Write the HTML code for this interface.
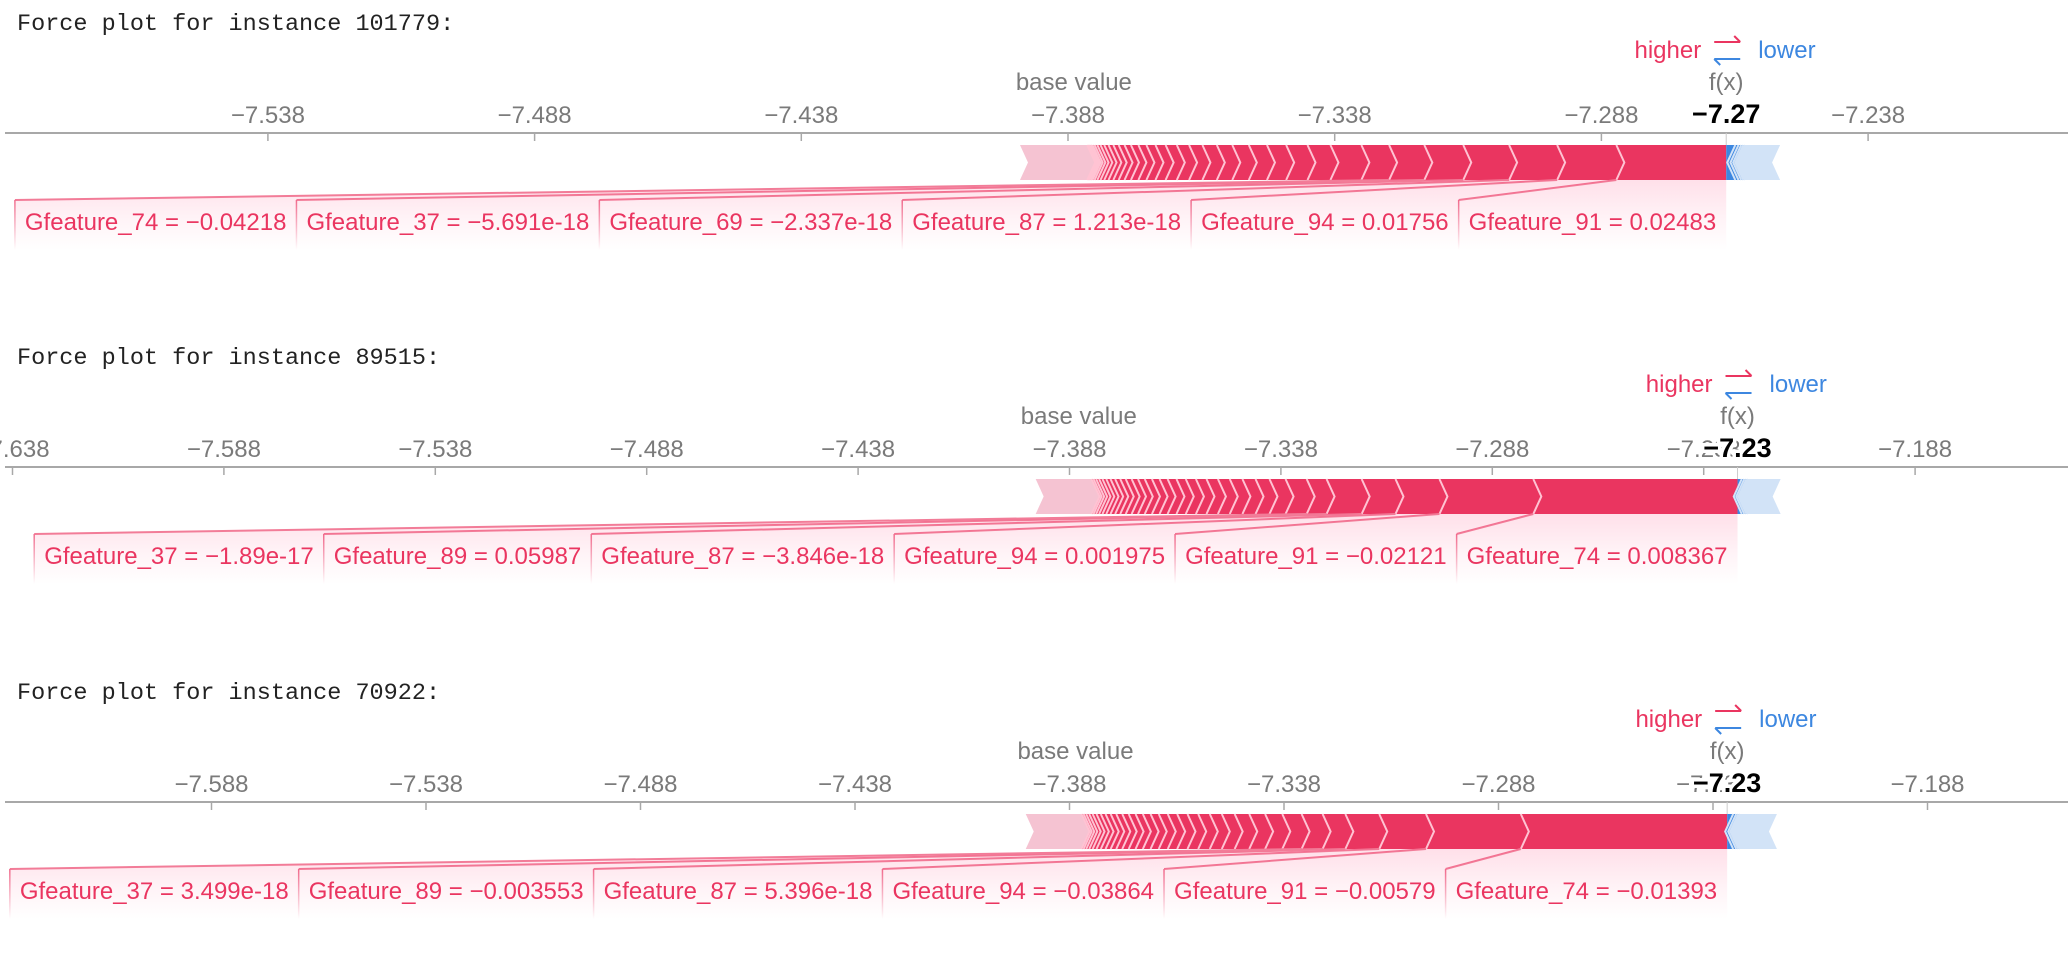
<!DOCTYPE html>
<html><head><meta charset="utf-8">
<style>
html,body{margin:0;padding:0;background:#fff;width:2068px;height:958px;overflow:hidden}
svg{display:block}
.tick{font-family:"Liberation Sans",Arial,sans-serif;font-size:24px;fill:#7a7a7a}
.lab{font-family:"Liberation Sans",Arial,sans-serif;font-size:24px;fill:#ea3560}
.title{font-family:"Liberation Mono",monospace;font-size:23.5px;fill:#222}
</style></head>
<body>
<svg id="root" width="2068" height="958" viewBox="0 0 2068 958" xmlns="http://www.w3.org/2000/svg">
<defs>
<linearGradient id="labGrad" x1="0" y1="0" x2="0" y2="1">
<stop offset="0" stop-color="#ff0d57" stop-opacity="0.13"/>
<stop offset="0.55" stop-color="#ff0d57" stop-opacity="0.05"/>
<stop offset="1" stop-color="#ff0d57" stop-opacity="0"/>
</linearGradient>
<linearGradient id="edgeGrad" x1="0" y1="0" x2="0" y2="1">
<stop offset="0" stop-color="#f07090" stop-opacity="1"/>
<stop offset="1" stop-color="#f07090" stop-opacity="0"/>
</linearGradient>
</defs>
</svg>
<script>
// ---------- chart data ----------
const c1Title = "Force plot for instance 101779:";
const c1Ticks = [-7.538, -7.488, -7.438, -7.388, -7.338, -7.288, -7.238];
const c1Fx = -7.2646;
const c1FxLabel = "\u22127.27";
const c1PosValues = [0.0206, 0.0111, 0.0090, 0.0086, 0.0073, 0.0066, 0.0052, 0.0058, 0.0043,
  0.0040, 0.0036, 0.0034, 0.0031, 0.0029, 0.0027, 0.0025, 0.0023, 0.0021, 0.0019, 0.0017, 0.0015,
  0.0014, 0.0012, 0.0011, 0.0010, 0.0009, 0.0008, 0.0007, 0.0006, 0.0005, 0.0004, 0.0003, 0.0003,
  0.0002, 0.0002, 0.0126];
const c1PosNames = ["Gfeature_91 = 0.02483", "Gfeature_94 = 0.01756", "Gfeature_87 = 1.213e-18",
  "Gfeature_69 = \u22122.337e-18", "Gfeature_37 = \u22125.691e-18", "Gfeature_74 = \u22120.04218"];
const c1NegValues = [0.0017, 0.0006, 0.0005, 0.0004, 0.0003, 0.0066];

const c2Title = "Force plot for instance 89515:";
const c2Ticks = [-7.638, -7.588, -7.538, -7.488, -7.438, -7.388, -7.338, -7.288, -7.238, -7.188];
const c2Fx = -7.2300;
const c2FxLabel = "\u22127.23";
const c2PosValues = [0.0483, 0.0222, 0.0104, 0.0080, 0.0083, 0.0047, 0.0050, 0.0038, 0.0033, 0.0031,
  0.0030, 0.0028, 0.0027, 0.0025, 0.0024, 0.0022, 0.0021, 0.0019, 0.0018, 0.0017, 0.0016, 0.0015,
  0.0014, 0.0013, 0.0012, 0.0011, 0.0010, 0.0009, 0.0008, 0.0007, 0.0006, 0.0005, 0.0132];
const c2PosNames = ["Gfeature_74 = 0.008367", "Gfeature_91 = \u22120.02121", "Gfeature_94 = 0.001975",
  "Gfeature_87 = \u22123.846e-18", "Gfeature_89 = 0.05987", "Gfeature_37 = \u22121.89e-17"];
const c2NegValues = [0.0010, 0.0006, 0.0005, 0.0004, 0.0077];

const c3Title = "Force plot for instance 70922:";
const c3Ticks = [-7.588, -7.538, -7.488, -7.438, -7.388, -7.338, -7.288, -7.238, -7.188];
const c3Fx = -7.2347;
const c3FxLabel = "\u22127.23";
const c3PosValues = [0.0481, 0.0221, 0.0109, 0.0079, 0.0053, 0.0049, 0.0045, 0.0040, 0.0037, 0.0034,
  0.0030, 0.0028, 0.0027, 0.0025, 0.0024, 0.0022, 0.0021, 0.0019, 0.0018, 0.0017, 0.0016, 0.0015,
  0.0014, 0.0013, 0.0012, 0.0011, 0.0010, 0.0009, 0.0008, 0.0007, 0.0006, 0.0005, 0.0130];
const c3PosNames = ["Gfeature_74 = \u22120.01393", "Gfeature_91 = \u22120.00579", "Gfeature_94 = \u22120.03864",
  "Gfeature_87 = 5.396e-18", "Gfeature_89 = \u22120.003553", "Gfeature_37 = 3.499e-18"];
const c3NegValues = [0.0014, 0.0007, 0.0005, 0.0004, 0.0086];

// ---------- layout (not data) ----------
const layouts = [
  {axisY: 133, anchorVal: -7.388, anchorX: 1068, scale: 5334},
  {axisY: 467, anchorVal: -7.388, anchorX: 1069.5, scale: 4228},
  {axisY: 802, anchorVal: -7.388, anchorX: 1069.5, scale: 4290}
];
const charts = [
  {title: c1Title, ticks: c1Ticks, fx: c1Fx, fxLabel: c1FxLabel, pos: c1PosValues, names: c1PosNames, neg: c1NegValues},
  {title: c2Title, ticks: c2Ticks, fx: c2Fx, fxLabel: c2FxLabel, pos: c2PosValues, names: c2PosNames, neg: c2NegValues},
  {title: c3Title, ticks: c3Ticks, fx: c3Fx, fxLabel: c3FxLabel, pos: c3PosValues, names: c3PosNames, neg: c3NegValues}
];

const NS = "http://www.w3.org/2000/svg";
const root = document.getElementById("root");
function mk(tag, attrs, parent) {
  const el = document.createElementNS(NS, tag);
  for (const k in attrs) el.setAttribute(k, attrs[k]);
  (parent || root).appendChild(el);
  return el;
}
const RED = "#ea3560", PINK = "#f5c3d2", BLUE = "#3d87e0", LBLUE = "#d2e3f7";
const D = 8;

charts.forEach((c, ci) => {
  const L = layouts[ci];
  const ay = L.axisY;
  const xs = v => L.anchorX + (v - L.anchorVal) * L.scale;
  const g = mk("g", {});
  
  

  const title = mk("text", {x: 17, y: ay - 103, class: "title"}, g);
  title.textContent = c.title;
  
  

  const axis = mk("line", {x1: 5, x2: 2068, y1: ay, y2: ay, stroke: "#a8a8a8", "stroke-width": 2}, g);
  
  
  c.ticks.forEach(t => {
    const x = xs(t);
    const tm = mk("line", {x1: x, x2: x, y1: ay, y2: ay + 8, stroke: "#a8a8a8", "stroke-width": 1.5}, g);
    
    
    const tl = mk("text", {x: x, y: ay - 10, class: "tick", "text-anchor": "middle"}, g);
    tl.textContent = "\u2212" + Math.abs(t).toFixed(3);
    
    
  });

  const fxX = xs(c.fx);
  const posSum = c.pos.reduce((a, b) => a + b, 0);
  const negSum = c.neg.reduce((a, b) => a + b, 0);
  const base = c.fx - posSum + negSum;
  const top = ay + 12, bot = ay + 47, mid = (top + bot) / 2;

  const fl = mk("line", {x1: fxX, x2: fxX, y1: ay, y2: top, stroke: "#cccccc", "stroke-width": 1}, g);
  
  

  let cum = 0;
  const segs = [];
  c.pos.forEach((v, i) => {
    const r = xs(c.fx - cum);
    cum += v;
    const l = xs(c.fx - cum);
    segs.push({l, r});
    const last = i === c.pos.length - 1;
    const rt = i === 0 ? `${r},${top} ${r},${bot}` : `${r},${top} ${r + D},${mid} ${r},${bot}`;
    const p = mk("polygon", {points: `${l},${top} ${rt} ${l},${bot} ${l + D},${mid}`, fill: last ? PINK : RED}, g);
    
    
  });
  segs.forEach((s, i) => {
    if (i === segs.length - 1) return;
    const sp = mk("polyline", {points: `${s.l},${top} ${s.l + D},${mid} ${s.l},${bot}`, fill: "none", stroke: "#ffc3d3", "stroke-width": 2}, g);
    
    
  });

  let ncum = 0;
  const nsegs = [];
  c.neg.forEach((v, i) => {
    const l = xs(c.fx + ncum);
    ncum += v;
    const r = xs(c.fx + ncum);
    nsegs.push({l, r});
    const last = i === c.neg.length - 1;
    const lt = i === 0 ? `${l},${bot} ${l},${top}` : `${l},${bot} ${l - D},${mid} ${l},${top}`;
    const p = mk("polygon", {points: `${lt} ${r},${top} ${r - D},${mid} ${r},${bot}`, fill: last ? LBLUE : BLUE}, g);
    
    
  });
  nsegs.forEach((s, i) => {
    if (i === nsegs.length - 1) return;
    const sp = mk("polyline", {points: `${s.r},${top} ${s.r - D},${mid} ${s.r},${bot}`, fill: "none", stroke: "#d2e3f7", "stroke-width": 2}, g);
    
    
  });

  const lTop = bot + 20, lBot = bot + 70, tY = bot + 50;
  let boxRight = fxX;
  c.names.forEach((name, i) => {
    const t = mk("text", {x: 0, y: tY, class: "lab"}, g);
    t.textContent = name;
    
    
    const w = t.getComputedTextLength() + 20;
    const boxLeft = boxRight - w;
    t.setAttribute("x", boxLeft + 10);
    const s = segs[i];
    const poly = mk("polygon", {points: `${s.l},${bot} ${s.r},${bot} ${boxRight},${lTop} ${boxRight},${lBot} ${boxLeft},${lBot} ${boxLeft},${lTop}`, fill: "url(#labGrad)"}, g);
    
    
    g.insertBefore(poly, t);
    const ln = mk("polyline", {points: `${s.l},${bot} ${boxLeft},${lTop}`, fill: "none", stroke: "#f27c98", "stroke-width": 2}, g);
    
    
    const edge = mk("rect", {x: boxLeft - 0.75, y: lTop, width: 1.5, height: lBot - lTop, fill: "url(#edgeGrad)"}, g);
    
    
    boxRight = boxLeft;
  });

  const bv = mk("text", {x: xs(base), y: ay - 43, class: "tick", "text-anchor": "middle"}, g);
  bv.textContent = "base value";
  
  
  const fxt = mk("text", {x: fxX, y: ay - 43, class: "tick", "text-anchor": "middle"}, g);
  fxt.textContent = "f(x)";
  
  
  const fv = mk("text", {x: fxX, y: ay - 10, "text-anchor": "middle", "font-family": "Liberation Sans, Arial, sans-serif", "font-size": 27, "font-weight": "bold", fill: "#000", stroke: "#fff", "stroke-width": 7, "paint-order": "stroke"}, g);
  fv.textContent = c.fxLabel;
  
  

  const hy = ay - 75;
  const hi = mk("text", {x: fxX - 25, y: hy, "text-anchor": "end", class: "lab"}, g);
  hi.textContent = "higher";
  
  
  const lo = mk("text", {x: fxX + 32, y: hy, class: "lab", style: "fill:" + BLUE}, g);
  lo.textContent = "lower";
  
  
  const ar1 = mk("path", {d: `M${fxX - 12},${hy - 16} H${fxX + 14} M${fxX + 8},${hy - 22} L${fxX + 14},${hy - 16}`, stroke: RED, "stroke-width": 2, fill: "none"}, g);
  
  
  const ar2 = mk("path", {d: `M${fxX + 14},${hy + 1} H${fxX - 12} M${fxX - 6},${hy + 7} L${fxX - 12},${hy + 1}`, stroke: BLUE, "stroke-width": 2, fill: "none"}, g);
  
  
});
</script>
</body></html>
